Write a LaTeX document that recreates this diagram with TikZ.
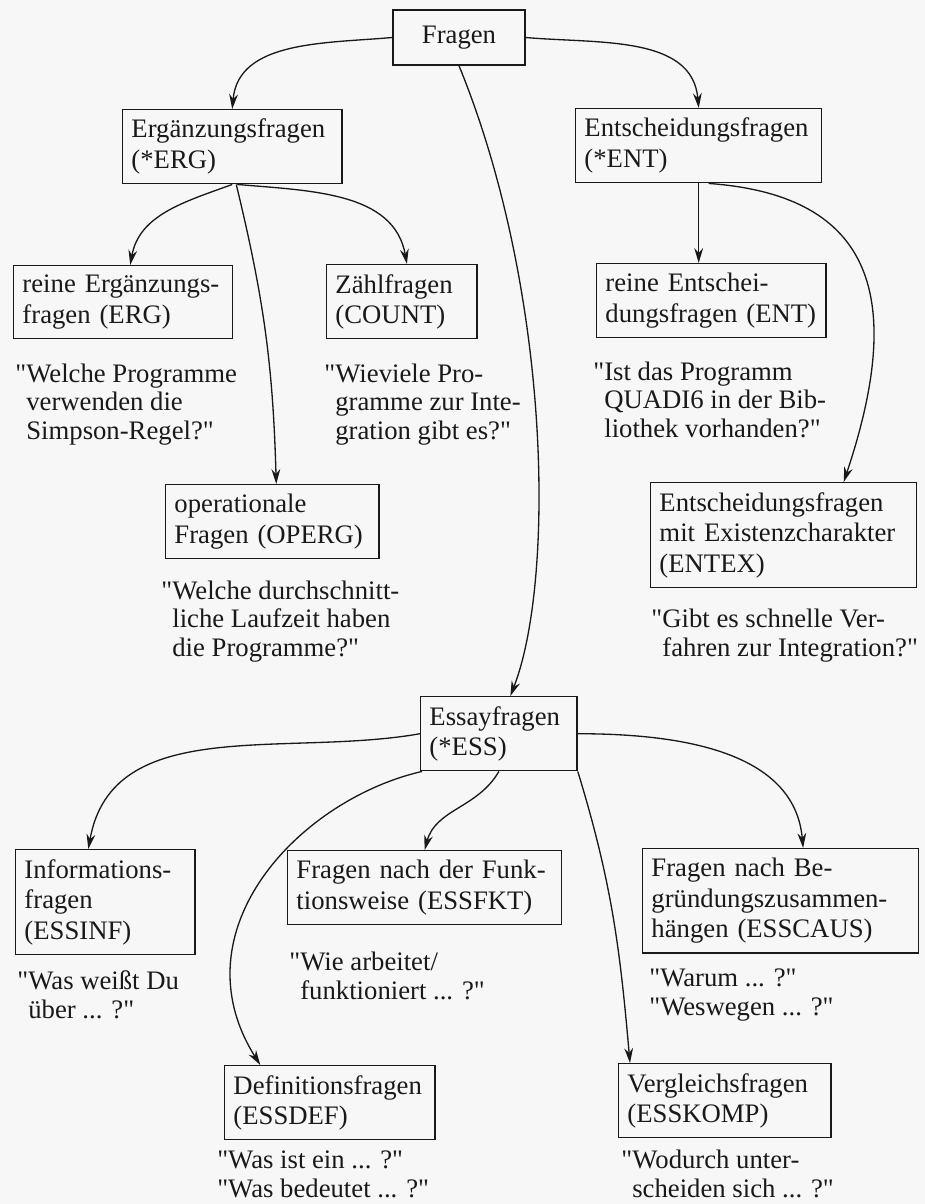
\documentclass[tikz,border=0pt]{standalone}
\usepackage{fontspec}
\setmainfont{Liberation Serif}[Ligatures=TeXOff]
\usetikzlibrary{arrows.meta,positioning}
\tikzset{>={Stealth[length=8.5pt,width=5pt]}}
\hyphenpenalty=10000
\newcommand{\hq}{\llap{"}}

\tikzset{
	qbox/.style={draw=black!90, line width=0.8pt, anchor=north west, align=left, inner xsep=5pt, inner ysep=5.4pt, text=black!90, font=\fontsize{15.2pt}{17.4pt}\selectfont},
	qtext/.style={anchor=base west, align=left, inner sep=0pt, text=black!90, font=\fontsize{15.2pt}{16.2pt}\selectfont},
	link/.style={->, line width=0.75pt, draw=black!90}
}

\begin{document}
\begin{tikzpicture}[x=0.02cm, y=-0.02cm]
		\fill[black!3] (0,0) rectangle (925,1204);
		\useasboundingbox (0,0) rectangle (925,1204);

		\node[qbox, anchor=center, minimum width=2.64cm, minimum height=1.1cm] (fragen) at (459,37.5) {Fragen};

		\node[qbox, text width=114.7pt] (erg) at (122,109) {Ergänzungsfragen\\(*ERG)};
		\node[qbox, text width=130pt] (ent) at (575,108) {Entscheidungsfragen\\(*ENT)};

		\node[qbox, text width=114.7pt] (rerg) at (13,265) {reine Ergänzungs-\\fragen (ERG)};
		\node[qbox, text width=75.6pt] (count) at (326,264) {Zählfragen\\(COUNT)};
		\node[qbox, text width=120.4pt] (rent) at (596,263) {reine Entschei-\\dungsfragen (ENT)};
		\node[qbox, text width=111.3pt] (operg) at (165,484) {operationale\\Fragen (OPERG)};
		\node[qbox, text width=141.4pt] (entex) at (650,482) {Entscheidungsfragen\\mit Existenzcharakter\\(ENTEX)};

		\node[qbox, text width=79pt] (ess) at (420,696) {Essayfragen\\(*ESS)};
		\node[qbox, text width=92pt] (inf) at (15,849) {Informations-\\fragen\\(ESSINF)};
		\node[qbox, text width=145.9pt] (fkt) at (287,850) {Fragen nach der Funk-\\tionsweise (ESSFKT)};
		\node[qbox, text width=147pt] (caus) at (642,848) {Fragen nach Be-\\gründungszusammen-\\hängen (ESSCAUS)};
		\node[qbox, text width=109.6pt] (def) at (224,1065) {Definitionsfragen\\(ESSDEF)};
		\node[qbox, text width=110.8pt] (komp) at (618,1063) {Vergleichsfragen\\(ESSKOMP)};

		% example questions (anchored at the baseline of the last line)
		\node[qtext] (qerg) at (26,439) {\hq Welche Programme\\verwenden die\\Simpson-Regel?"};
		\node[qtext] (qcount) at (335,439) {\hq Wieviele Pro-\\gramme zur Inte-\\gration gibt es?"};
		\node[qtext] (qent) at (604,437) {\hq Ist das Programm\\QUADI6 in der Bib-\\liothek vorhanden?"};
		\node[qtext] (qoperg) at (172,656) {\hq Welche durchschnitt-\\liche Laufzeit haben\\die Programme?"};
		\node[qtext] (qentex) at (662,656) {\hq Gibt es schnelle Ver-\\fahren zur Integration?"};
		\node[qtext] (qinf) at (28,1018) {\hq Was weißt Du\\über ... ?"};
		\node[qtext] (qfkt) at (300,999) {\hq Wie arbeitet/\\funktioniert ... ?"};
		\node[qtext] (qcaus) at (649,1015) {"Warum ... ?"\\"Weswegen ... ?"};
		\node[qtext] (qdef) at (217,1197) {"Was ist ein ... ?"\\"Was bedeutet ... ?"};
		\node[qtext] (qkomp) at (632,1197) {\hq Wodurch unter-\\scheiden sich ... ?"};

		\draw[link] (fragen.west) to[out=185, in=85] (erg.north);
		\draw[link] (fragen.east) to[out=-5, in=95] (ent.north);
		\draw[link] (fragen.south) .. controls +(92,225) and +(45,-116) .. ([xshift=0.23cm]ess.north);

		\draw[link] (erg.south) to[out=200, in=80] ([xshift=0.14cm]rerg.north);
		\draw[link] ([xshift=0.1cm]erg.south) to[out=-5, in=100] ([xshift=0.1cm]count.north);
		\draw[link] ([xshift=0.08cm]erg.south) to[bend left=6] ([xshift=0.08cm]operg.north);

		\draw[link] (ent.south) -- (ent.south |- rent.north);
		\draw[link] ([xshift=0.2cm]ent.south) .. controls +(167,12) and +(61,-182) .. ([xshift=1.2cm]entex.north);

		\draw[link] (ess.west) to[out=190, in=80] ([xshift=-0.34cm]inf.north);
		\draw[link] (ess.south) to[out=-120, in=75] (fkt.north);
		\draw[link] ([xshift=0.04cm]ess.south west) .. controls +(-122,28) and +(-85,-135) .. ([xshift=-1.39cm]def.north);
		\draw[link] (ess.south east) to[out=-73, in=95] ([xshift=0.24cm]komp.north west);
		\draw[link] (ess.east) to[out=0, in=95] ([xshift=0.45cm]caus.north);
\end{tikzpicture}
\end{document}
